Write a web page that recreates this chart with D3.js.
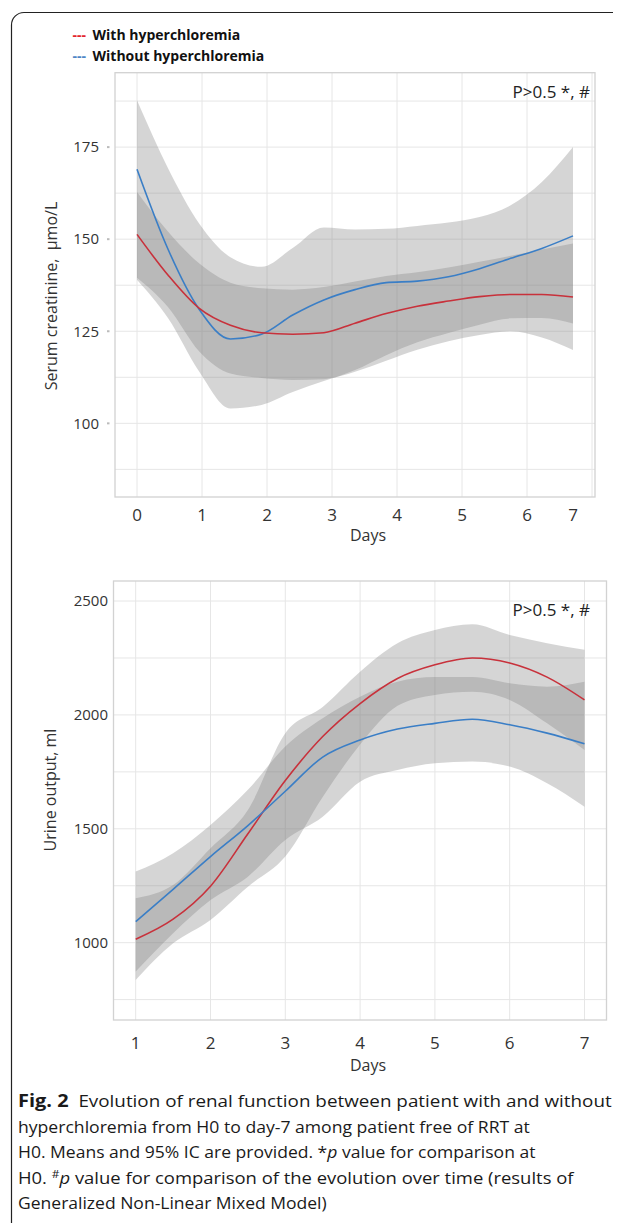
<!DOCTYPE html>
<html>
<head>
<meta charset="utf-8">
<script src="https://cdn.jsdelivr.net/npm/d3@7"></script>
<style>
body { margin: 0; background: #fff; }
text { font-family: "Open Sans", sans-serif; }
</style>
</head>
<body>
<svg id="fig" width="629" height="1223"></svg>
<script>
// ---- serum creatinine (top panel), days 0..7 ----
var creatDays = [0, 0.5, 1, 1.5, 2, 2.5, 3, 3.5, 4, 4.5, 5, 5.5, 6, 6.5, 7];
var creatWith     = [151.3, 140.2, 131.2, 126.6, 124.6, 124.2, 124.6, 127.2, 129.8, 131.8, 133.2, 134.4, 135.0, 135.0, 134.3];
var creatWithLo   = [139.5, 131.5, 119.5, 113.5, 112.3, 111.8, 112.0, 114.5, 118.5, 122.0, 124.5, 126.8, 128.5, 128.6, 127.1];
var creatWithHi   = [162.8, 152.0, 143.4, 138.2, 136.7, 136.3, 137.0, 138.5, 140.0, 141.0, 142.3, 143.9, 145.5, 147.2, 148.8];
var creatWithout   = [169.0, 147.2, 130.9, 122.9, 124.2, 129.4, 133.5, 136.3, 138.2, 138.6, 139.8, 142.0, 144.8, 147.5, 150.9];
var creatWithoutLo = [139.0, 128.5, 114.0, 104.0, 105.0, 108.5, 111.5, 114.0, 117.0, 120.0, 122.3, 124.0, 125.0, 123.3, 119.9];
var creatWithoutHi = [187.7, 169.2, 154.2, 145.1, 142.5, 147.6, 153.2, 152.6, 152.8, 153.6, 154.5, 156.0, 159.2, 165.5, 175.0];
var creatTicks = [100, 125, 150, 175];
var creatDayTicks = [0, 1, 2, 3, 4, 5, 6, 7];

// ---- urine output (bottom panel), days 1..7 ----
var urineDays = [1, 1.5, 2, 2.5, 3, 3.5, 4, 4.5, 5, 5.5, 6, 6.5, 7];
var urineWith     = [1015, 1103, 1248, 1478, 1712, 1905, 2050, 2160, 2220, 2250, 2228, 2166, 2066];
var urineWithLo   = [836, 997, 1100, 1246, 1378, 1640, 1870, 2040, 2088, 2102, 2066, 1963, 1846];
var urineWithHi   = [1195, 1253, 1415, 1583, 1920, 2035, 2190, 2315, 2373, 2398, 2351, 2315, 2286];
var urineWithout   = [1092, 1234, 1378, 1514, 1665, 1815, 1890, 1938, 1963, 1981, 1957, 1920, 1873];
var urineWithoutLo = [873, 1041, 1187, 1290, 1451, 1553, 1707, 1758, 1788, 1795, 1773, 1700, 1597];
var urineWithoutHi = [1312, 1393, 1517, 1671, 1861, 1985, 2080, 2146, 2166, 2166, 2139, 2124, 2146];
var urineTicks = [1000, 1500, 2000, 2500];
var urineDayTicks = [1, 2, 3, 4, 5, 6, 7];

var redLine = "#c8313b", blueLine = "#3a7ec6";

var svg = d3.select("#fig");
svg.append("rect").attr("width", 629).attr("height", 1223).attr("fill", "#fff");

// figure frame (open on the right like the journal box)
svg.append("path")
  .attr("d", "M613,12.5H24A12.5,12.5 0 0 0 11.5,25V1223")
  .attr("fill", "none").attr("stroke", "#222").attr("stroke-width", 1.2);

// legend
var legend = [
  {label: "With hyperchloremia", color: "#e3262d", y: 39.5},
  {label: "Without hyperchloremia", color: "#4f86c6", y: 61}
];
legend.forEach(function(l) {
  svg.append("text").attr("x", 72.5).attr("y", l.y)
    .attr("font-size", 14).attr("font-weight", "bold").attr("fill", l.color).text("---");
  svg.append("text").attr("x", 92.5).attr("y", l.y)
    .attr("font-size", 14).attr("font-weight", "bold").attr("fill", "#111").text(l.label);
});

function zip(days, mean, lo, hi) {
  return days.map(function(d, i) { return {day: d, v: mean[i], lo: lo[i], hi: hi[i]}; });
}

function panel(p) {
  var g = svg.append("g");

  // grid
  g.selectAll(".gy").data(p.gridY).enter().append("line")
    .attr("x1", p.left).attr("x2", p.right)
    .attr("y1", function(d) { return p.y(d); }).attr("y2", function(d) { return p.y(d); })
    .attr("stroke", "#e6e6e6").attr("stroke-width", 1);
  g.selectAll(".gx").data(p.dayTicks).enter().append("line")
    .attr("x1", function(d) { return p.xGrid(d); }).attr("x2", function(d) { return p.xGrid(d); })
    .attr("y1", p.top).attr("y2", p.bottom)
    .attr("stroke", "#e6e6e6").attr("stroke-width", 1);

  g.append("rect")
    .attr("x", p.left).attr("y", p.top)
    .attr("width", p.right - p.left).attr("height", p.bottom - p.top)
    .attr("fill", "none").attr("stroke", "#d2d2d2").attr("stroke-width", 1.3);

  var area = d3.area()
    .x(function(d) { return p.x(d.day); })
    .y0(function(d) { return p.y(d.lo); })
    .y1(function(d) { return p.y(d.hi); })
    .curve(d3.curveMonotoneX);
  var line = d3.line()
    .x(function(d) { return p.x(d.day); })
    .y(function(d) { return p.y(d.v); })
    .curve(d3.curveMonotoneX);

  p.series.forEach(function(s) {
    g.append("path").attr("d", area(s.data))
      .attr("fill", "#7f7f7f").attr("fill-opacity", 0.33);
  });
  p.series.forEach(function(s) {
    g.append("path").attr("d", line(s.data))
      .attr("fill", "none").attr("stroke", s.color).attr("stroke-width", 1.6);
  });

  // y tick labels
  g.selectAll(".yl").data(p.yTicks).enter().append("text")
    .attr("x", p.yLabelX).attr("y", function(d) { return p.y(d); })
    .attr("dy", "0.35em").attr("text-anchor", "end")
    .attr("font-size", 15).attr("fill", "#333").text(function(d) { return d; });
  if (p.tinyTicks) {
    g.selectAll(".yt").data(p.yTicks).enter().append("line")
      .attr("x1", 107).attr("x2", 109.5)
      .attr("y1", function(d) { return p.y(d); }).attr("y2", function(d) { return p.y(d); })
      .attr("stroke", "#bbb").attr("stroke-width", 2);
  }

  // x tick labels
  g.selectAll(".xl").data(p.dayTicks).enter().append("text")
    .attr("x", p.labelX).attr("y", p.xLabelY)
    .attr("text-anchor", "middle").attr("font-size", 17).attr("fill", "#333")
    .text(function(d) { return d; });

  g.append("text").attr("x", 368).attr("y", p.daysY)
    .attr("text-anchor", "middle").attr("font-size", 16).attr("fill", "#333").text("Days");

  g.append("text")
    .attr("transform", "translate(" + p.titleX + "," + p.titleY + ") rotate(-90)")
    .attr("text-anchor", "middle").attr("font-size", 16).attr("fill", "#333")
    .text(p.title);

  g.append("text").attr("x", 590).attr("y", p.pY)
    .attr("text-anchor", "end").attr("font-size", 17).attr("fill", "#222")
    .text("P>0.5 *, #");
}

// top panel: curves end at the "7" label, grid keeps the 65px day spacing
var xTop = d3.scaleLinear().domain([0, 7]).range([137, 573]);
var xTopGrid = d3.scaleLinear().domain([0, 7]).range([137, 592]);
var yTop = d3.scaleLinear().domain([80, 195.2]).range([497, 72.7]);

panel({
  left: 115, right: 595, top: 72.7, bottom: 497,
  x: xTop, xGrid: xTopGrid, y: yTop,
  gridY: d3.range(87.5, 190, 12.5),
  dayTicks: creatDayTicks,
  labelX: function(d) { return d === 7 ? xTop(d) : xTopGrid(d); },
  yTicks: creatTicks, yLabelX: 99, tinyTicks: true,
  xLabelY: 521, daysY: 541,
  title: "Serum creatinine,\u00a0 \u00b5mo/L", titleX: 57, titleY: 296,
  pY: 98,
  series: [
    {color: blueLine, data: zip(creatDays, creatWithout, creatWithoutLo, creatWithoutHi)},
    {color: redLine, data: zip(creatDays, creatWith, creatWithLo, creatWithHi)}
  ]
});

var xBot = d3.scaleLinear().domain([1, 7]).range([135.7, 584.5]);
var yBot = d3.scaleLinear().domain([660.5, 2588]).range([1020, 581]);

panel({
  left: 113.5, right: 606.5, top: 581, bottom: 1020,
  x: xBot, xGrid: xBot, y: yBot,
  gridY: d3.range(750, 2600, 250),
  dayTicks: urineDayTicks,
  labelX: function(d) { return xBot(d); },
  yTicks: urineTicks, yLabelX: 108, tinyTicks: false,
  xLabelY: 1049, daysY: 1071,
  title: "Urine output, ml", titleX: 56, titleY: 790,
  pY: 616,
  series: [
    {color: redLine, data: zip(urineDays, urineWith, urineWithLo, urineWithHi)},
    {color: blueLine, data: zip(urineDays, urineWithout, urineWithoutLo, urineWithoutHi)}
  ]
});

// caption, each line squeezed to the width it has in the journal
var caption = [
  {y: 1107, w: 594, parts: [{t: "Fig. 2", b: true}, {t: "\u00a0\u00a0Evolution of renal function between patient with and without"}]},
  {y: 1132.5, w: 512, parts: [{t: "hyperchloremia from H0 to day-7 among patient free of RRT at"}]},
  {y: 1158, w: 518, parts: [{t: "H0. Means and 95% IC are provided. *"}, {t: "p", i: true}, {t: " value for comparison at"}]},
  {y: 1183.5, w: 556, parts: [{t: "H0. "}, {t: "#", sup: true}, {t: "p", i: true}, {t: " value for comparison of the evolution over time (results of"}]},
  {y: 1209, w: 309, parts: [{t: "Generalized Non-Linear Mixed Model)"}]}
];
caption.forEach(function(c) {
  var t = svg.append("text").attr("x", 0).attr("y", 0)
    .attr("font-size", 17).attr("fill", "#1a1a1a");
  c.parts.forEach(function(p, k) {
    var s = t.append("tspan").text(p.t);
    if (p.b) s.attr("font-weight", "bold").attr("font-size", 18);
    if (p.i) s.attr("font-style", "italic");
    if (p.sup) s.attr("font-size", 11).attr("dy", -6);
    if (k > 0 && c.parts[k - 1].sup) s.attr("dy", 6);
  });
  var len = t.node().getComputedTextLength();
  t.attr("transform", "translate(18," + c.y + ") scale(" + (c.w / len) + ",1)");
});
</script>
</body>
</html>
